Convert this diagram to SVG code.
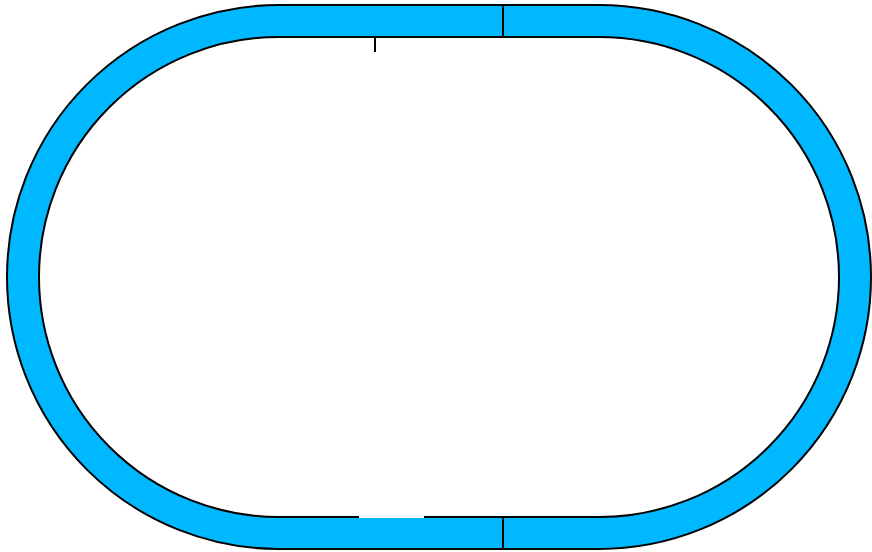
<svg xmlns="http://www.w3.org/2000/svg" width="872" height="552" viewBox="0 0 872 552">
<style>
.track{fill:#00b8ff;fill-rule:evenodd;stroke:#000;stroke-width:2}
.joint{stroke:#000;stroke-width:2;fill:none}
</style>
<rect width="872" height="552" fill="#fff"/>
<g id="track">
<path class="track" d="M279,5 H599 A272,272 0 0 1 599,549 H279 A272,272 0 0 1 279,5 Z M279,37 H599 A240,240 0 0 1 599,517 H279 A240,240 0 0 1 279,37 Z"/>
</g>
<g id="joints">
<line class="joint" x1="503" y1="5" x2="503" y2="37"/>
<line class="joint" x1="503" y1="517" x2="503" y2="549"/>
<line class="joint" x1="375" y1="37" x2="375" y2="52"/>
<line x1="359" y1="517" x2="424" y2="517" stroke="#fff" stroke-width="2.2"/>
</g>
</svg>
